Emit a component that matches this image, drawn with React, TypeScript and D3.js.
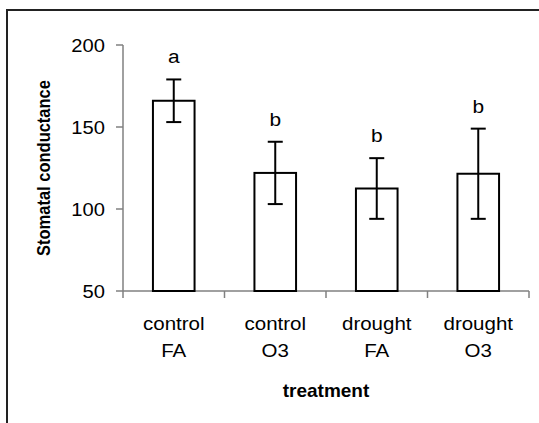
import React, { FC, useMemo } from 'react'
import * as d3 from 'd3'

const categories = ['control FA', 'control O3', 'drought FA', 'drought O3']
const means = [166, 122, 112.5, 121.5]
const errors = [13, 19, 18.5, 27.5]
const letters = ['a', 'b', 'b', 'b']
const yTicks = [50, 100, 150, 200]

const font = '"Liberation Sans", Arial, sans-serif'

const App: FC = () => {
	const width = 539
	const height = 423
	const left = 123
	const right = 529
	const top = 45
	const bottom = 291

	const x = useMemo(
		() =>
			d3
				.scaleBand()
				.domain(categories)
				.range([left, right])
				.paddingInner(0.59)
				.paddingOuter(0.295),
		[]
	)
	const y = useMemo(() => d3.scaleLinear().domain([50, 200]).range([bottom, top]), [])

	const step = x.step()
	const bounds = d3.range(categories.length + 1).map((i) => left + i * step)

	return (
		<svg
			width={width}
			height={height}
			style={{ position: 'absolute', left: 0, top: 0, background: '#fff' }}
		>
			{/* frame */}
			<rect x={7} y={10} width={560} height={440} fill="none" stroke="#222" strokeWidth={2} />

			{/* axes */}
			<g stroke="#808080" strokeWidth={1.5}>
				<line x1={left} y1={top} x2={left} y2={bottom} />
				<line x1={left} y1={bottom} x2={right} y2={bottom} />
				{yTicks.map((t) => (
					<line key={t} x1={left - 7} y1={y(t)} x2={left} y2={y(t)} />
				))}
				{bounds.map((b, i) => (
					<line key={i} x1={b} y1={bottom} x2={b} y2={bottom + 7} />
				))}
			</g>
			<g fontFamily={font} fontSize={18} fill="#000">
				{yTicks.map((t) => (
					<text
						key={t}
						transform={`translate(105, ${y(t) + 6.5}) scale(1.12, 1)`}
						textAnchor="end"
					>
						{t}
					</text>
				))}
			</g>

			{/* bars */}
			<g>
				{categories.map((c, i) => {
					const x0 = x(c) as number
					const bw = x.bandwidth()
					const cx = x0 + bw / 2
					return (
						<g key={c}>
							<rect
								x={x0}
								y={y(means[i])}
								width={bw}
								height={bottom - y(means[i])}
								fill="#fff"
								stroke="#000"
								strokeWidth={2}
							/>
							<g stroke="#000" strokeWidth={2}>
								<line x1={cx} x2={cx} y1={y(means[i] + errors[i])} y2={y(means[i] - errors[i])} />
								<line x1={cx - 7.5} x2={cx + 7.5} y1={y(means[i] + errors[i])} y2={y(means[i] + errors[i])} />
								<line x1={cx - 7.5} x2={cx + 7.5} y1={y(means[i] - errors[i])} y2={y(means[i] - errors[i])} />
							</g>
							<text
								transform={`translate(${cx}, ${y(means[i] + errors[i]) - 16}) scale(1.1, 1)`}
								textAnchor="middle"
								fontFamily={font}
								fontSize={19}
							>
								{letters[i]}
							</text>
							{c.split(' ').map((w, j) => (
								<text
									key={j}
									transform={`translate(${cx}, ${330 + j * 27}) scale(1.08, 1)`}
									textAnchor="middle"
									fontFamily={font}
									fontSize={19}
								>
									{w}
								</text>
							))}
						</g>
					)
				})}
			</g>

			{/* axis titles */}
			<text
				transform={`translate(${(left + right) / 2}, 397)`}
				textAnchor="middle"
				fontFamily={font}
				fontSize={19}
				fontWeight="bold"
			>
				treatment
			</text>
			<text
				transform={`translate(49.5, ${(top + bottom) / 2}) rotate(-90) scale(1, 1.1)`}
				textAnchor="middle"
				fontFamily={font}
				fontSize={16.5}
				fontWeight="bold"
			>
				Stomatal conductance
			</text>
		</svg>
	)
}

export default App
